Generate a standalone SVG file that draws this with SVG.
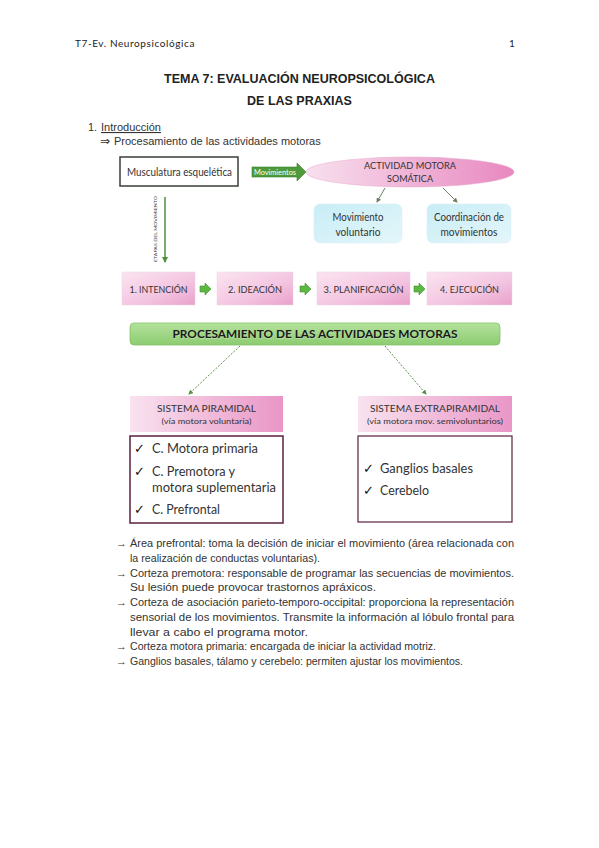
<svg xmlns="http://www.w3.org/2000/svg" width="599" height="848" viewBox="0 0 599 848">
<defs>
<style>
.hdr{font-family:Lato,"Open Sans",sans-serif;font-size:10px;fill:#222;letter-spacing:0.6px}
.title{font-family:"Liberation Sans",Arial,sans-serif;font-size:12.5px;font-weight:bold;fill:#222}
.body{font-family:"Liberation Sans",Arial,sans-serif;font-size:11px;fill:#333}
.dg{font-family:Lato,"Open Sans",sans-serif;fill:#333}
.chk{font-family:"DejaVu Sans",sans-serif;font-size:13px;font-weight:bold;fill:#111}
.dbl{font-family:"DejaVu Sans",sans-serif;font-size:12px;fill:#333}
</style>
<linearGradient id="gStage" x1="0" y1="0" x2="1" y2="1">
<stop offset="0" stop-color="#fbe4f1"/><stop offset="0.6" stop-color="#f3c4e0"/><stop offset="1" stop-color="#e9a1cb"/>
</linearGradient>
<linearGradient id="gEll" x1="0" y1="0" x2="1" y2="0">
<stop offset="0" stop-color="#f8e0ee"/><stop offset="1" stop-color="#e888c0"/>
</linearGradient>
<linearGradient id="gSys" x1="0" y1="0" x2="1" y2="0">
<stop offset="0" stop-color="#f9e2ef"/><stop offset="1" stop-color="#e996c6"/>
</linearGradient>
<linearGradient id="gCyan" x1="0" y1="0" x2="1" y2="1">
<stop offset="0" stop-color="#c8edf6"/><stop offset="1" stop-color="#e4f6fa"/>
</linearGradient>
<linearGradient id="gGreen" x1="0" y1="0" x2="0" y2="1">
<stop offset="0" stop-color="#b4e29c"/><stop offset="1" stop-color="#8ccb70"/>
</linearGradient>
<marker id="mG" markerWidth="6" markerHeight="6" refX="5" refY="3" orient="auto" markerUnits="userSpaceOnUse">
<path d="M0,0 L6,3 L0,6 z" fill="#4e8f3e"/>
</marker>
<marker id="mS" markerWidth="5" markerHeight="5" refX="4" refY="2.5" orient="auto" markerUnits="userSpaceOnUse">
<path d="M0,0 L5,2.5 L0,5 z" fill="#6f7f66"/>
</marker>
<marker id="mD" markerWidth="5" markerHeight="5" refX="4" refY="2.5" orient="auto" markerUnits="userSpaceOnUse">
<path d="M0,0 L5,2.5 L0,5 z" fill="#5e8f4a"/>
</marker>
<path id="stArrow" d="M0,-3 L5,-3 L5,-6 L11,0 L5,6 L5,3 L0,3 z" fill="#5cb843" stroke="#3f8f2e" stroke-width="0.6"/>
</defs>
<rect width="599" height="848" fill="#fff"/>

<!-- page header & title -->
<text class="hdr" x="75" y="47">T7-Ev. Neuropsicológica</text>
<text class="hdr" x="509" y="47">1</text>
<text class="title" x="299.5" y="83" text-anchor="middle">TEMA 7: EVALUACIÓN NEUROPSICOLÓGICA</text>
<text class="title" x="299.5" y="105" text-anchor="middle">DE LAS PRAXIAS</text>
<text class="body" x="88" y="131">1.</text>
<text class="body" x="101" y="131" text-decoration="underline">Introducción</text>
<text class="dbl" x="100" y="145">⇒</text>
<text class="body" x="114" y="145">Procesamiento de las actividades motoras</text>

<!-- connectors -->
<g id="connectors">
<line x1="165" y1="197" x2="165" y2="262" stroke="#4e8f3e" stroke-width="1.5" marker-end="url(#mG)"/>
<line x1="385" y1="188" x2="377" y2="202" stroke="#6f7f66" stroke-width="1" marker-end="url(#mS)"/>
<line x1="443" y1="188" x2="457" y2="202" stroke="#6f7f66" stroke-width="1" marker-end="url(#mS)"/>
<line x1="240" y1="346" x2="189" y2="394" stroke="#5e8f4a" stroke-width="1" stroke-dasharray="2 1.5" marker-end="url(#mD)"/>
<line x1="385" y1="346" x2="426" y2="394" stroke="#5e8f4a" stroke-width="1" stroke-dasharray="2 1.5" marker-end="url(#mD)"/>
<use href="#stArrow" x="200" y="289"/>
<use href="#stArrow" x="300" y="289"/>
<use href="#stArrow" x="414" y="289"/>
<g id="movimientos-arrow">
<path d="M252,167 L297,167 L297,163 L306,172 L297,181 L297,177 L252,177 z" fill="#4f9a3a" stroke="#3c7d2b" stroke-width="0.6"/>
<text class="dg" x="254" y="174.5" font-size="7" style="fill:#fff" textLength="42" lengthAdjust="spacingAndGlyphs">Movimientos</text>
</g>
</g>

<g id="musculatura">
<rect x="120" y="157" width="118" height="29" fill="#fff" stroke="#3a3f38" stroke-width="1.5"/>
<text class="dg" x="127" y="176" font-size="11" textLength="105" lengthAdjust="spacingAndGlyphs">Musculatura esquelética</text>
</g>

<g id="etapas-label">
<text class="dg" font-size="4.5" transform="translate(157,262) rotate(-90)" textLength="66" lengthAdjust="spacingAndGlyphs">ETAPAS DEL MOVIMIENTO</text>
</g>

<g id="actividad">
<ellipse cx="410" cy="172" rx="104" ry="15" fill="url(#gEll)" stroke="#e2a6c8" stroke-width="0.5"/>
<text class="dg" x="410" y="169" font-size="10" text-anchor="middle" textLength="92" lengthAdjust="spacingAndGlyphs">ACTIVIDAD MOTORA</text>
<text class="dg" x="410" y="182" font-size="10" text-anchor="middle" textLength="46" lengthAdjust="spacingAndGlyphs">SOMÁTICA</text>
</g>

<g id="mov-voluntario">
<rect x="314" y="204" width="88" height="39" rx="6" fill="url(#gCyan)" stroke="#d5eef4" stroke-width="0.5"/>
<text class="dg" x="358" y="221" font-size="10.5" text-anchor="middle" textLength="51" lengthAdjust="spacingAndGlyphs">Movimiento</text>
<text class="dg" x="358" y="236" font-size="10.5" text-anchor="middle" textLength="45" lengthAdjust="spacingAndGlyphs">voluntario</text>
</g>

<g id="coordinacion">
<rect x="427" y="204" width="84" height="39" rx="6" fill="url(#gCyan)" stroke="#d5eef4" stroke-width="0.5"/>
<text class="dg" x="469" y="221" font-size="10.5" text-anchor="middle" textLength="70" lengthAdjust="spacingAndGlyphs">Coordinación de</text>
<text class="dg" x="469" y="236" font-size="10.5" text-anchor="middle" textLength="57" lengthAdjust="spacingAndGlyphs">movimientos</text>
</g>

<g id="intencion">
<rect x="122" y="272" width="73" height="33" fill="url(#gStage)" stroke="#efd3e3" stroke-width="0.5"/>
<text class="dg" x="158.5" y="293" font-size="9.5" text-anchor="middle" textLength="58" lengthAdjust="spacingAndGlyphs">1. INTENCIÓN</text>
</g>
<g id="ideacion">
<rect x="217" y="272" width="76" height="33" fill="url(#gStage)" stroke="#efd3e3" stroke-width="0.5"/>
<text class="dg" x="255" y="293" font-size="9.5" text-anchor="middle" textLength="54" lengthAdjust="spacingAndGlyphs">2. IDEACIÓN</text>
</g>
<g id="planificacion">
<rect x="317" y="272" width="93" height="33" fill="url(#gStage)" stroke="#efd3e3" stroke-width="0.5"/>
<text class="dg" x="363.5" y="293" font-size="9.5" text-anchor="middle" textLength="80" lengthAdjust="spacingAndGlyphs">3. PLANIFICACIÓN</text>
</g>
<g id="ejecucion">
<rect x="427" y="272" width="85" height="33" fill="url(#gStage)" stroke="#efd3e3" stroke-width="0.5"/>
<text class="dg" x="469.5" y="293" font-size="9.5" text-anchor="middle" textLength="59" lengthAdjust="spacingAndGlyphs">4. EJECUCIÓN</text>
</g>

<g id="procesamiento">
<rect x="130" y="323" width="370" height="22" rx="4" fill="url(#gGreen)" stroke="#86c06a" stroke-width="0.8"/>
<text class="dg" x="315.5" y="338.5" font-size="12" font-weight="bold" text-anchor="middle" style="fill:#b9d9a8" textLength="285" lengthAdjust="spacingAndGlyphs">PROCESAMIENTO DE LAS ACTIVIDADES MOTORAS</text>
<text class="dg" x="315" y="338" font-size="12" font-weight="bold" text-anchor="middle" style="fill:#1a1a1a" textLength="285" lengthAdjust="spacingAndGlyphs">PROCESAMIENTO DE LAS ACTIVIDADES MOTORAS</text>
</g>

<g id="piramidal">
<rect x="130" y="396" width="153" height="36" fill="url(#gSys)"/>
<text class="dg" x="206.5" y="412" font-size="9" text-anchor="middle" textLength="99" lengthAdjust="spacingAndGlyphs">SISTEMA PIRAMIDAL</text>
<text class="dg" x="206.5" y="424" font-size="7" text-anchor="middle" textLength="90" lengthAdjust="spacingAndGlyphs">(vía motora voluntaria)</text>
<rect x="130" y="436" width="153" height="87" fill="#fff" stroke="#5b1f3f" stroke-width="1.5"/>
<text class="chk" x="134" y="453">✓</text>
<text class="dg" x="152" y="453" font-size="13" textLength="106" lengthAdjust="spacingAndGlyphs">C. Motora primaria</text>
<text class="chk" x="134" y="476">✓</text>
<text class="dg" x="152" y="476" font-size="13" textLength="83" lengthAdjust="spacingAndGlyphs">C. Premotora y</text>
<text class="dg" x="152" y="492" font-size="13" textLength="124" lengthAdjust="spacingAndGlyphs">motora suplementaria</text>
<text class="chk" x="134" y="514">✓</text>
<text class="dg" x="152" y="514" font-size="13" textLength="68" lengthAdjust="spacingAndGlyphs">C. Prefrontal</text>
</g>

<g id="extrapiramidal">
<rect x="358" y="396" width="154" height="36" fill="url(#gSys)"/>
<text class="dg" x="435" y="412" font-size="9" text-anchor="middle" textLength="130" lengthAdjust="spacingAndGlyphs">SISTEMA EXTRAPIRAMIDAL</text>
<text class="dg" x="435" y="424" font-size="7" text-anchor="middle" textLength="136" lengthAdjust="spacingAndGlyphs">(vía motora mov. semivoluntarios)</text>
<rect x="358" y="436" width="154" height="86" fill="#fff" stroke="#5b1f3f" stroke-width="1.2"/>
<text class="chk" x="363" y="473">✓</text>
<text class="dg" x="380" y="473" font-size="13" textLength="93" lengthAdjust="spacingAndGlyphs">Ganglios basales</text>
<text class="chk" x="363" y="495">✓</text>
<text class="dg" x="380" y="495" font-size="13" textLength="49" lengthAdjust="spacingAndGlyphs">Cerebelo</text>
</g>

<!-- bullet text -->
<g id="notes">
<text class="body" x="116" y="547">→</text>
<text class="body" x="130" y="547" textLength="384" lengthAdjust="spacingAndGlyphs">Área prefrontal: toma la decisión de iniciar el movimiento (área relacionada con</text>
<text class="body" x="130" y="561.75" textLength="190" lengthAdjust="spacingAndGlyphs">la realización de conductas voluntarias).</text>
<text class="body" x="116" y="576.5">→</text>
<text class="body" x="130" y="576.5" textLength="384" lengthAdjust="spacingAndGlyphs">Corteza premotora: responsable de programar las secuencias de movimientos.</text>
<text class="body" x="130" y="591.25" textLength="246" lengthAdjust="spacingAndGlyphs">Su lesión puede provocar trastornos apráxicos.</text>
<text class="body" x="116" y="606">→</text>
<text class="body" x="130" y="606" textLength="384" lengthAdjust="spacingAndGlyphs">Corteza de asociación parieto-temporo-occipital: proporciona la representación</text>
<text class="body" x="130" y="620.75" textLength="384" lengthAdjust="spacingAndGlyphs">sensorial de los movimientos. Transmite la información al lóbulo frontal para</text>
<text class="body" x="130" y="635.5" textLength="178" lengthAdjust="spacingAndGlyphs">llevar a cabo el programa motor.</text>
<text class="body" x="116" y="650.25">→</text>
<text class="body" x="130" y="650.25" textLength="306" lengthAdjust="spacingAndGlyphs">Corteza motora primaria: encargada de iniciar la actividad motriz.</text>
<text class="body" x="116" y="665">→</text>
<text class="body" x="130" y="665" textLength="333" lengthAdjust="spacingAndGlyphs">Ganglios basales, tálamo y cerebelo: permiten ajustar los movimientos.</text>
</g>
</svg>
